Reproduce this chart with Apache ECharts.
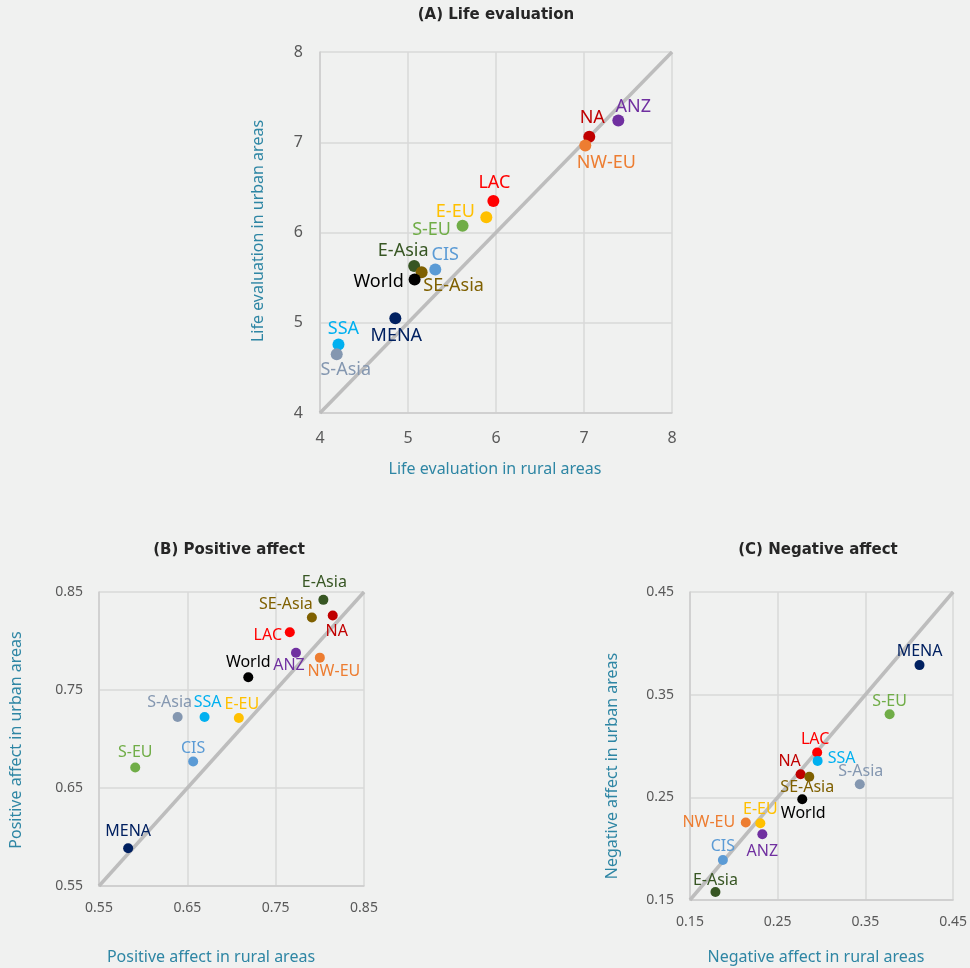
<!DOCTYPE html>
<html>
<head>
<meta charset="utf-8">
<script src="https://cdn.jsdelivr.net/npm/echarts@6/dist/echarts.min.js"></script>
<style>
html,body{margin:0;padding:0;background:#f0f1f0;}
#chart{width:970px;height:968px;}
</style>
</head>
<body>
<div id="chart"></div>
<script>
// ---- Data ----
const regions = ['ANZ','NA','NW-EU','LAC','E-EU','S-EU','E-Asia','SE-Asia','CIS','World','MENA','SSA','S-Asia'];
const lifeRural = [7.39, 7.06, 7.015, 5.97, 5.89, 5.62, 5.07, 5.155, 5.31, 5.075, 4.856, 4.21, 4.19];
const lifeUrban = [7.24, 7.06, 6.965, 6.35, 6.17, 6.075, 5.63, 5.56, 5.59, 5.48, 5.05, 4.76, 4.65];
const posRural  = [0.773, 0.8146, 0.800, 0.766, 0.7083, 0.591, 0.804, 0.791, 0.6566, 0.719, 0.583, 0.6695, 0.639];
const posUrban  = [0.788, 0.826, 0.783, 0.809, 0.7214, 0.671, 0.842, 0.824, 0.677, 0.763, 0.5885, 0.7224, 0.7224];
const negRural  = [0.2325, 0.2761, 0.2136, 0.295, 0.2302, 0.3776, 0.179, 0.286, 0.1875, 0.278, 0.4117, 0.2955, 0.3436];
const negUrban  = [0.214, 0.2725, 0.2254, 0.2936, 0.2248, 0.331, 0.1578, 0.270, 0.189, 0.2482, 0.3788, 0.2855, 0.2628];
const lifeTicks = [4, 5, 6, 7, 8];
const posTicks  = [0.55, 0.65, 0.75, 0.85];
const negTicks  = [0.15, 0.25, 0.35, 0.45];
const titles = ['(A) Life evaluation', '(B) Positive affect', '(C) Negative affect'];
const xNames = ['Life evaluation in rural areas', 'Positive affect in rural areas', 'Negative affect in rural areas'];
const yNames = ['Life evaluation in urban areas', 'Positive affect in urban areas', 'Negative affect in urban areas'];

// ---- Styles / layout ----
const colors = {
  'ANZ':'#7030A0','NA':'#C00000','NW-EU':'#ED7D31','LAC':'#FF0000','E-EU':'#FFC000',
  'S-EU':'#70AD47','E-Asia':'#375623','SE-Asia':'#7F6000','CIS':'#5B9BD5','World':'#000000',
  'MENA':'#002060','SSA':'#00B0F0','S-Asia':'#8497B0'
};
const offsA = {
  'ANZ':[15,-14],'NA':[3,-19],'NW-EU':[21,17],'LAC':[1,-18],'E-EU':[-31,-5],'S-EU':[-31,4],
  'E-Asia':[-11,-15],'SE-Asia':[32,14],'CIS':[10,-15],'World':[-36,2],'MENA':[1,18],
  'SSA':[5,-16],'S-Asia':[9,16]
};
const offsB = {
  'ANZ':[-7,13],'NA':[4,16],'NW-EU':[14,14],'LAC':[-22,3],'E-EU':[3,-14],'S-EU':[0,-15],
  'E-Asia':[1,-17],'SE-Asia':[-26,-13],'CIS':[0,-13],'World':[0,-15],'MENA':[0,-17],
  'SSA':[3,-15],'S-Asia':[-8,-15]
};
const offsC = {
  'ANZ':[0,17],'NA':[-11,-13],'NW-EU':[-37,0],'LAC':[-2,-13],'E-EU':[0,-14],'S-EU':[0,-13],
  'E-Asia':[0,-12],'SE-Asia':[-2,11],'CIS':[0,-14],'World':[1,14],'MENA':[0,-14],
  'SSA':[24,-2],'S-Asia':[1,-13]
};
const grids = [
  {left:320, top:52, width:352, height:361},
  {left:99, top:592, width:265, height:294},
  {left:690, top:592, width:264, height:308}
];
const axisNameColor = '#2E86A4';
const tickColor = '#595959';
const gridColor = '#d9d9d9';

function makeAxis(idx, ticks, fontSize, margin, isX, decimals) {
  return {
    type:'value', gridIndex: idx,
    min: ticks[0], max: ticks[ticks.length-1], interval: ticks[1]-ticks[0],
    axisLine:{show:true, lineStyle:{color:'#cccccc', width:1.5}},
    axisTick:{show:false},
    splitLine:{show:true, lineStyle:{color:gridColor, width:1.5}},
    axisLabel:{color:tickColor, fontSize:fontSize, fontFamily:'Noto Sans', margin:margin,
      formatter: v => decimals ? v.toFixed(decimals) : String(Math.round(v))}
  };
}
function makeScatter(idx, xs, ys, offs, size, fontSize) {
  return {
    type:'scatter', xAxisIndex: idx, yAxisIndex: idx, symbolSize: size, z: 5,
    silent: true,
    itemStyle:{opacity:1},
    label:{show:true, position:'inside', formatter:'{b}', fontFamily:'Noto Sans', fontSize: fontSize, opacity:1},
    data: regions.map((r,i) => ({
      name: r, value:[xs[i], ys[i]],
      itemStyle:{color: colors[r], opacity:1},
      label:{color: colors[r], offset: offs[r], textBorderWidth:0}
    }))
  };
}
function makeDiag(idx, ticks) {
  const lo = ticks[0], hi = ticks[ticks.length-1];
  return {
    type:'line', xAxisIndex: idx, yAxisIndex: idx, z: 2, silent: true, symbol:'none',
    lineStyle:{color:'#bdbdbd', width:3.5},
    data:[[lo, lo], [hi, hi]]
  };
}

const xAxes = [
  makeAxis(0, lifeTicks, 16, 17, true, 0),
  makeAxis(1, posTicks, 14, 15, true, 2),
  makeAxis(2, negTicks, 14, 15, true, 2)
];
const yAxes = [
  makeAxis(0, lifeTicks, 16, 17, false, 0),
  makeAxis(1, posTicks, 14, 16, false, 2),
  makeAxis(2, negTicks, 14, 16, false, 2)
];

const titlePos = [[496,15],[229,550],[818,550]];
const xNamePos = [[495,469],[211,957],[816,957]];
const yNamePos = [[258,231],[16,740],[612,766]];

const graphics = [];
titles.forEach((t,i) => graphics.push({type:'text', x:titlePos[i][0], y:titlePos[i][1], silent:true,
  style:{text:t, fill:'#262626', font:'bold 15px "DejaVu Sans"', align:'center', verticalAlign:'middle'}}));
xNames.forEach((t,i) => graphics.push({type:'text', x:xNamePos[i][0], y:xNamePos[i][1], silent:true,
  style:{text:t, fill:axisNameColor, font:'16px "Noto Sans"', align:'center', verticalAlign:'middle'}}));
yNames.forEach((t,i) => graphics.push({type:'text', x:yNamePos[i][0], y:yNamePos[i][1], rotation:Math.PI/2, silent:true,
  style:{text:t, fill:axisNameColor, font:'16px "Noto Sans"', align:'center', verticalAlign:'middle'}}));

const chart = echarts.init(document.getElementById('chart'), null, {renderer:'canvas'});
chart.setOption({
  backgroundColor:'#f0f1f0',
  animation:false,
  grid: grids.map(g => Object.assign({containLabel:false}, g)),
  xAxis: xAxes,
  yAxis: yAxes,
  graphic: graphics,
  series: [
    makeDiag(0, lifeTicks), makeDiag(1, posTicks), makeDiag(2, negTicks),
    makeScatter(0, lifeRural, lifeUrban, offsA, 12, 18),
    makeScatter(1, posRural, posUrban, offsB, 10, 16),
    makeScatter(2, negRural, negUrban, offsC, 10, 16)
  ]
});
</script>
</body>
</html>
